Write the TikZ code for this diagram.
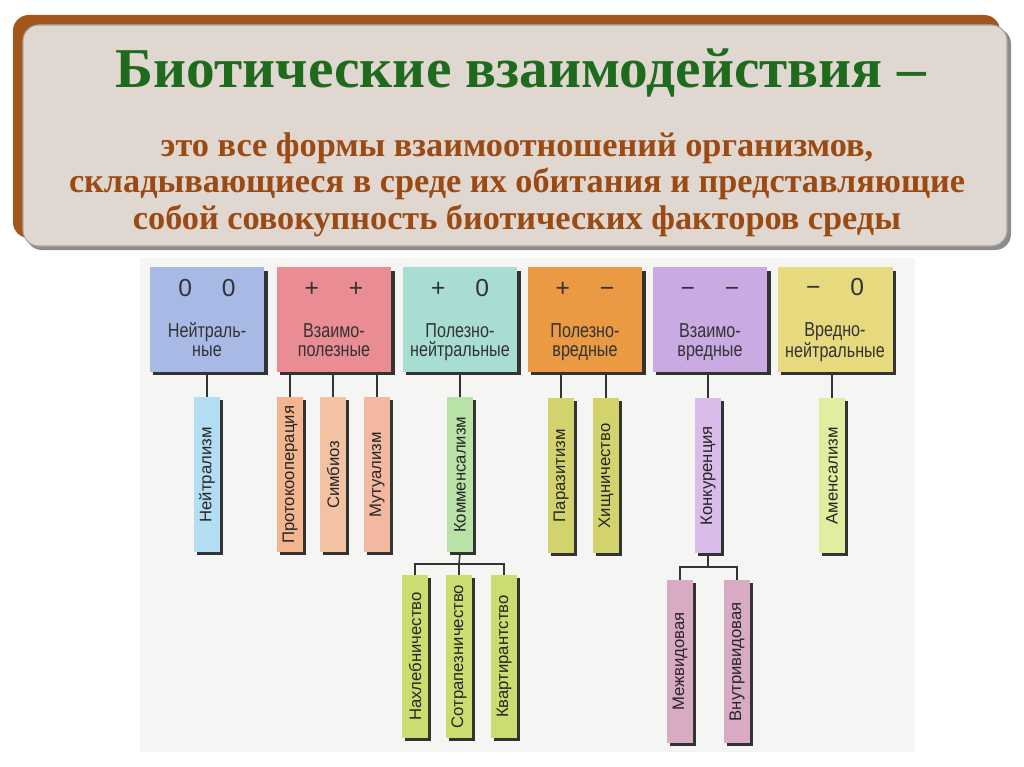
\documentclass[tikz,border=0pt]{standalone}
\usepackage{fontspec}
\setmainfont{Liberation Serif}
\setsansfont{Liberation Sans}
\newfontfamily\titleserif[FakeStretch=1.02]{Liberation Serif}
\newfontfamily\narrowsans[FakeStretch=0.8]{Liberation Sans}
\usepackage{graphicx}
\usetikzlibrary{shadows}

\definecolor{framebrown}{HTML}{A3561C}
\definecolor{panelbeige}{HTML}{E0D7D0}
\definecolor{titlegreen}{HTML}{1E6B1E}
\definecolor{textbrown}{HTML}{9A4A12}
\definecolor{scanbg}{HTML}{F5F5F3}
% group colours
\definecolor{cneut}{HTML}{A9B9E6}
\definecolor{cmutual}{HTML}{E98C93}
\definecolor{ccomm}{HTML}{A7DDD3}
\definecolor{cprey}{HTML}{E99A43}
\definecolor{charm}{HTML}{C9AAE2}
\definecolor{camens}{HTML}{E6D97E}
% kind colours
\definecolor{knz}{HTML}{B3DDF2}
\definecolor{kproto}{HTML}{F2B58E}
\definecolor{ksimb}{HTML}{F3C2A2}
\definecolor{kmutu}{HTML}{F2B9A0}
\definecolor{kkomm}{HTML}{B9E2A6}
\definecolor{kparaz}{HTML}{D3D36D}
\definecolor{kkonk}{HTML}{D9BCEA}
\definecolor{kamen}{HTML}{E2ED9F}
\definecolor{ksub}{HTML}{CBDD6E}
\definecolor{kcomp}{HTML}{D9AAC4}

% signs on top, two-line name below
\newcommand\groupbody[4]{{\sffamily\fontsize{14}{14}\selectfont\vphantom{0}#1\hspace{17pt}#2}\\[13pt]#3\\#4\vphantom{р}}

\begin{document}
\begin{tikzpicture}[x=0.02cm, y=-0.02cm,
    group/.style={minimum width=2.3cm, minimum height=2.1cm, inner sep=0pt,
        anchor=north, align=center,
        font=\narrowsans\fontsize{11.5}{10.4}\selectfont, text=black!80,
        drop shadow={shadow xshift=1.8pt, shadow yshift=-1.8pt, fill=black!80, opacity=1}},
    kind/.style={minimum width=0.52cm, minimum height=3.1cm, inner sep=0pt,
        anchor=north, font=\sffamily\fontsize{9.5}{10}\selectfont, text=black!85,
        drop shadow={shadow xshift=1.6pt, shadow yshift=-1.6pt, fill=black!80, opacity=1}},
    lower/.style={minimum height=3.25cm},
    link/.style={draw=black!80, line width=0.9pt}
]
    \useasboundingbox (0,0) rectangle (1024,767);

    % title panel
    \fill[framebrown, rounded corners=9pt] (13,15) rectangle (1000,238);
    \fill[black!45, rounded corners=9pt] (26,28) rectangle (1011,250);
    \filldraw[fill=panelbeige, draw=black!35, line width=0.6pt, rounded corners=9pt]
        (23,25) rectangle (1007,246);
    \node[anchor=base, font=\titleserif\bfseries\fontsize{32}{32}\selectfont, text=titlegreen]
        (title) at (521,88) {Биотические взаимодействия –};
    \node[anchor=base, font=\bfseries\fontsize{19.5}{20.6}\selectfont, text=textbrown,
        align=center] (def) at (517,229)
        {это все формы взаимоотношений организмов,\\
         складывающиеся в среде их обитания и представляющие\\
         собой совокупность биотических факторов среды};

    % scanned page
    \fill[scanbg] (140,258) rectangle (915,752);

    % groups
    \node[group, fill=cneut]   (neut)    at (207,267) {\groupbody{0}{0}{Нейтраль-}{ные}};
    \node[group, fill=cmutual] (mutual)  at (334,267) {\groupbody{+}{+}{Взаимо-}{полезные}};
    \node[group, fill=ccomm]   (useneu)  at (460,267) {\groupbody{+}{0}{Полезно-}{нейтральные}};
    \node[group, fill=cprey]   (useharm) at (585,267) {\groupbody{+}{−}{Полезно-}{вредные}};
    \node[group, fill=charm]   (harm)    at (710,267) {\groupbody{−}{−}{Взаимо-}{вредные}};
    \node[group, fill=camens]  (harmneu) at (835,267) {\groupbody{−}{0}{Вредно-}{нейтральные}};

    % kinds
    \node[kind, fill=knz]    (nz)    at (207,397) {\rotatebox{90}{Нейтрализм}};
    \node[kind, fill=kproto] (proto) at (290,397) {\rotatebox{90}{Протокооперация}};
    \node[kind, fill=ksimb]  (simb)  at (333,397) {\rotatebox{90}{Симбиоз}};
    \node[kind, fill=kmutu]  (mutu)  at (377,397) {\rotatebox{90}{Мутуализм}};
    \node[kind, fill=kkomm]  (komm)  at (460,397) {\rotatebox{90}{Комменсализм}};
    \node[kind, fill=kparaz] (paraz) at (561,398) {\rotatebox{90}{Паразитизм}};
    \node[kind, fill=kparaz] (hisch) at (606,398) {\rotatebox{90}{Хищничество}};
    \node[kind, fill=kkonk]  (konk)  at (708,398) {\rotatebox{90}{Конкуренция}};
    \node[kind, fill=kamen]  (amen)  at (832,398) {\rotatebox{90}{Аменсализм}};

    \node[kind, lower, fill=ksub]  (nakh)  at (415,575) {\rotatebox{90}{Нахлебничество}};
    \node[kind, lower, fill=ksub]  (sotr)  at (459,575) {\rotatebox{90}{Сотрапезничество}};
    \node[kind, lower, fill=ksub]  (kvart) at (504,575) {\rotatebox{90}{Квартирантство}};
    \node[kind, lower, fill=kcomp] (mezh)  at (680,580) {\rotatebox{90}{Межвидовая}};
    \node[kind, lower, fill=kcomp] (vnutr) at (737,580) {\rotatebox{90}{Внутривидовая}};

    \coordinate (kfork) at (459,564);
    \coordinate (cfork) at (708,567);

    % links
    \draw[link] (neut.south -| nz.north) -- (nz.north);
    \draw[link] (mutual.south -| proto.north) -- (proto.north);
    \draw[link] (mutual.south -| simb.north) -- (simb.north);
    \draw[link] (mutual.south -| mutu.north) -- (mutu.north);
    \draw[link] (useneu.south -| komm.north) -- (komm.north);
    \draw[link] (useharm.south -| paraz.north) -- (paraz.north);
    \draw[link] (useharm.south -| hisch.north) -- (hisch.north);
    \draw[link] (harm.south -| konk.north) -- (konk.north);
    \draw[link] (harmneu.south -| amen.north) -- (amen.north);

    \draw[link] (komm.south) -- (kfork);
    \draw[link] (nakh.north) |- (kfork) -| (kvart.north);
    \draw[link] (kfork) -- (sotr.north);
    \draw[link] (konk.south) -- (cfork);
    \draw[link] (mezh.north) |- (cfork) -| (vnutr.north);
\end{tikzpicture}
\end{document}
